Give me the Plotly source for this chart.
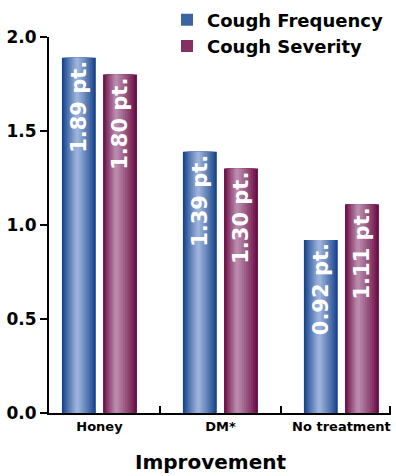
import plotly.graph_objects as go

categories = ["Honey", "DM*", "No treatment"]
freq_values = [1.89, 1.39, 0.92]
sev_values = [1.80, 1.30, 1.11]
freq_labels = ["1.89 pt.", "1.39 pt.", "0.92 pt."]
sev_labels = ["1.80 pt.", "1.30 pt.", "1.11 pt."]
y_ticks = [0.0, 0.5, 1.0, 1.5, 2.0]

FONT = "DejaVu Sans"
xpos = list(range(len(categories)))
BAR_W = 0.28
N = 9


def hex2rgb(h):
    h = h.lstrip("#")
    return tuple(int(h[i:i + 2], 16) for i in (0, 2, 4))


def mix(c1, c2, t):
    a, b = hex2rgb(c1), hex2rgb(c2)
    return "rgb(%d,%d,%d)" % tuple(round(a[i] + (b[i] - a[i]) * t) for i in range(3))


fig = go.Figure()


def add_series(name, values, labels, left, dark, light, hl):
    for i in range(N):
        s = 1 - i / N
        l0 = left + BAR_W * (hl - hl * s)
        w = BAR_W * s
        t = (i / (N - 1)) ** 0.9
        fig.add_trace(go.Bar(
            x=xpos, y=values, width=w, offset=l0,
            marker=dict(color=mix(dark, light, t), line=dict(width=0)),
            name=name, showlegend=(i == 2), legendgroup=name,
            hoverinfo="skip",
        ))
    fig.add_trace(go.Bar(
        x=xpos, y=values, width=BAR_W, offset=left,
        marker=dict(color="rgba(0,0,0,0)", line=dict(width=0)),
        text=labels, textposition="inside", insidetextanchor="end",
        textangle=-90, constraintext="none",
        insidetextfont=dict(family=FONT, size=21, color="white", weight="bold"),
        showlegend=False, hoverinfo="skip",
    ))


add_series("Cough Frequency", freq_values, freq_labels, -0.31, "#17448c", "#9bb2da", 0.45)
add_series("Cough Severity", sev_values, sev_labels, 0.03, "#6c0d45", "#b98aab", 0.38)

fig.update_layout(
    width=396, height=476,
    margin=dict(l=49, r=5, t=37, b=63, autoexpand=False),
    barmode="overlay",
    paper_bgcolor="white", plot_bgcolor="white",
    font=dict(family=FONT, color="black"),
    legend=dict(
        x=0.345, y=0.997, xanchor="left", yanchor="top", yref="container",
        font=dict(family=FONT, size=18, color="black", weight="bold"),
        bgcolor="rgba(0,0,0,0)", tracegroupgap=4, traceorder="normal",
        itemwidth=30,
    ),
    xaxis=dict(
        range=[-0.417, 2.41], tickmode="array", tickvals=xpos, ticktext=categories,
        ticks="", showgrid=False, zeroline=False,
        showline=True, linecolor="black", linewidth=2,
        tickfont=dict(family=FONT, size=13, color="black", weight="bold"),
        minor=dict(tickmode="array", tickvals=[0.5, 1.5, 2.405], ticks="inside",
                   ticklen=7, tickwidth=2, tickcolor="black", showgrid=False),
    ),
    yaxis=dict(
        range=[0, 2.0], tickmode="array", tickvals=y_ticks, tickformat=".1f",
        ticks="outside", ticklen=7, tickwidth=2, tickcolor="black",
        showgrid=False, zeroline=False,
        showline=True, linecolor="black", linewidth=2,
        tickfont=dict(family=FONT, size=17, color="black", weight="bold"),
    ),
    annotations=[dict(
        text="Improvement", xref="paper", yref="paper", x=0.471, y=-0.13,
        xanchor="center", yanchor="middle", showarrow=False,
        font=dict(family=FONT, size=20, color="black", weight="bold"),
    )],
)

fig.write_html("out.html", config={"displayModeBar": False},
               post_script="document.body.style.margin='0';")
